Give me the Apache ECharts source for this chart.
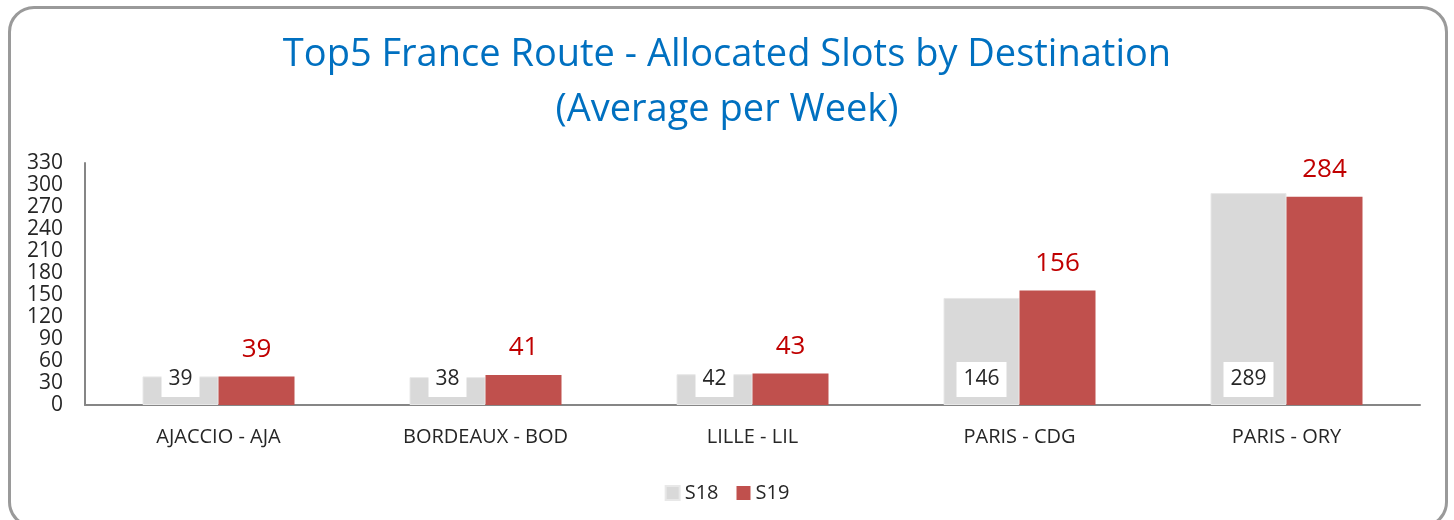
<!DOCTYPE html>
<html>
<head>
<meta charset="utf-8">
<script src="https://cdn.jsdelivr.net/npm/echarts@6/dist/echarts.min.js"></script>
<style>
  html, body { margin: 0; padding: 0; background: #fff; }
  #frame {
    position: absolute; left: 8px; top: 6px; width: 1440px; height: 522px;
    border: 3px solid #9a9a9a; border-radius: 26px; box-sizing: border-box;
  }
  #chart { position: absolute; left: 0; top: 0; width: 1454px; height: 520px; }
</style>
</head>
<body>
<div id="frame"></div>
<div id="chart"></div>
<script>
var categories = ['AJACCIO - AJA', 'BORDEAUX - BOD', 'LILLE - LIL', 'PARIS - CDG', 'PARIS - ORY'];
var s18 = [39, 38, 42, 146, 289];
var s19 = [39, 41, 43, 156, 284];
var yTicks = [0, 330, 30]; // min, max, step

var fontName = 'Open Sans';
var chart = echarts.init(document.getElementById('chart'));
var option = {
    animation: false,
    title: {
        text: 'Top5 France Route - Allocated Slots by Destination\n(Average per Week)',
        left: 'center',
        top: 23,
        textStyle: {
            color: '#0070C0',
            fontFamily: fontName,
            fontWeight: 'normal',
            fontSize: 38,
            lineHeight: 55
        }
    },
    legend: {
        data: ['S18', 'S19'],
        left: 'center',
        top: 478,
        itemWidth: 14,
        itemHeight: 14,
        itemGap: 18,
        icon: 'rect',
        textStyle: { color: '#262626', fontFamily: fontName, fontSize: 20 }
    },
    grid: { left: 85, right: 34, top: 163, bottom: 115, containLabel: false },
    xAxis: {
        type: 'category',
        data: categories,
        axisLine: { lineStyle: { color: '#868686', width: 2 } },
        axisTick: { show: false },
        axisLabel: { color: '#262626', fontFamily: fontName, fontSize: 20, margin: 22 }
    },
    yAxis: {
        type: 'value',
        min: yTicks[0],
        max: yTicks[1],
        interval: yTicks[2],
        splitLine: { show: false },
        axisLine: { show: true, lineStyle: { color: '#868686', width: 2 } },
        axisTick: { show: false },
        axisLabel: { color: '#262626', fontFamily: fontName, fontSize: 21, margin: 22 }
    },
    series: [
        {
            name: 'S18',
            type: 'bar',
            data: s18,
            barWidth: 76,
            barGap: '0%',
            itemStyle: { color: '#D9D9D9', borderColor: '#E8E8E8', borderWidth: 1 },
            label: {
                show: true,
                position: 'insideBottom',
                distance: 8,
                color: '#262626',
                fontFamily: fontName,
                fontSize: 21,
                backgroundColor: '#fff',
                padding: [5, 7, 5, 7],
                lineHeight: 25
            }
        },
        {
            name: 'S19',
            type: 'bar',
            data: s19,
            barWidth: 76,
            itemStyle: { color: '#C0504D' },
            label: {
                show: true,
                position: 'top',
                distance: 14,
                color: '#C00000',
                fontFamily: fontName,
                fontSize: 26
            }
        }
    ]
};
chart.setOption(option);
</script>
</body>
</html>
